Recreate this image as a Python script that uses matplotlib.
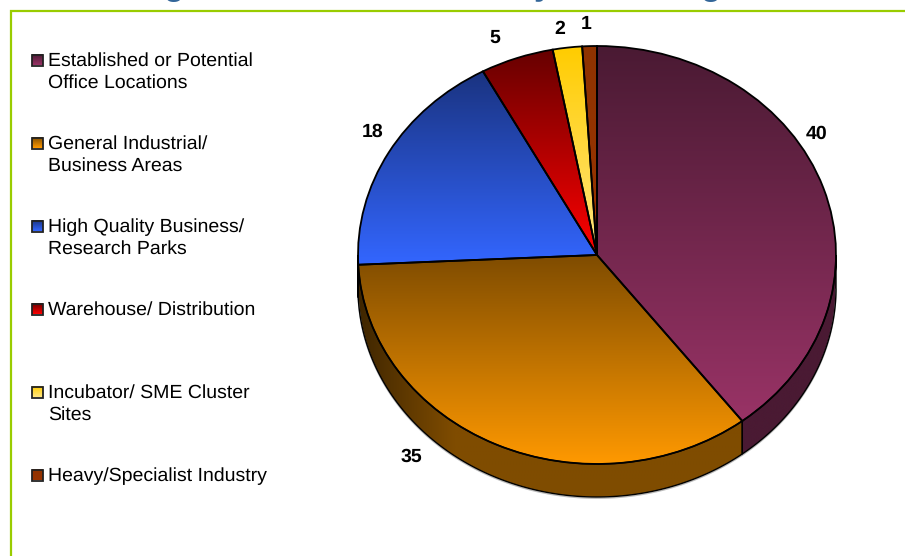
import matplotlib
matplotlib.use('Agg')
import matplotlib.pyplot as plt
from matplotlib.colors import LinearSegmentedColormap
from matplotlib.patches import Polygon, Rectangle
import numpy as np

plt.rcParams['font.family'] = ['Liberation Sans', 'DejaVu Sans']
plt.rcParams['text.hinting'] = 'no_hinting'
plt.rcParams['text.hinting_factor'] = 8

categories = ['Established or Potential\nOffice Locations',
              'General Industrial/\nBusiness Areas',
              'High Quality Business/\nResearch Parks',
              'Warehouse/ Distribution',
              'Incubator/ SME Cluster\nSites',
              'Heavy/Specialist Industry']
values = [40, 35, 18, 5, 2, 1]

# top colour, bottom colour of each slice
top_cols = ['#4a1a33', '#7f4c00', '#1a3380', '#660000', '#ffcc00', '#8f3300']
bot_cols = ['#993366', '#ff9900', '#3366ff', '#ff0000', '#ffe680', '#993300']
side_cols = [['#4a1a33', '#4a1a33'], ['#3f2600', '#7f4c00', '#7f4c00', '#7f4c00', '#7f4c00'],
             ['#3f2600', '#3f2600'], ['#800000', '#800000'], ['#7f6000', '#7f6000'], ['#4d1a00', '#4d1a00']]

# pixel positions of the value labels
label_xy = [(817, 134), (411, 457), (373, 132), (495, 38), (560, 29), (586, 24)]
# only the tails of the title letters show at the top edge
title_bits = [('g', 174), ('y', 543), ('g', 711)]

W, H = 905, 556
depth = 33 / 209
grad = np.linspace(0, 1, 256)

fig = plt.figure(figsize=(W / 100, H / 100), dpi=100)
page = fig.add_axes([0, 0, 1, 1])
page.set_xlim(0, W)
page.set_ylim(H, 0)
page.axis('off')

# green frame runs off the right and bottom
page.plot([W, 10.5, 10.5], [10.5, 10.5, H], color='#99cc00', lw=1.6, solid_joinstyle='miter')

for ch, x in title_bits:
    page.text(x, -4.5, ch, color='#336699', fontsize=24, fontweight='bold', ha='center', va='baseline')

# axes reach below the ellipse so the wall images are not cut
ax = fig.add_axes([358 / W, 1 - 504 / H, 478 / W, 458 / H])
ax.patch.set_alpha(0)
wedges, _ = ax.pie(values, startangle=90, counterclock=False, radius=1, center=(0, 0),
                   wedgeprops={'facecolor': 'none', 'edgecolor': 'black', 'linewidth': 1.3, 'zorder': 4})

for i, w in enumerate(wedges):
    # side wall, only on the front half (-180 to 0 degrees here)
    t1, t2 = max(w.theta1, -180), min(w.theta2, 0)
    if t2 > t1:
        t = np.radians(np.linspace(t1, t2, 120))
        xs, ys = np.cos(t), np.sin(t)
        pts = np.r_[np.c_[xs, ys], np.c_[xs, ys - depth][::-1]]
        wall = Polygon(pts, closed=True, facecolor='none', edgecolor='black', lw=1.0, zorder=3, clip_on=False)
        ax.add_patch(wall)
        cm = LinearSegmentedColormap.from_list('side%d' % i, side_cols[i])
        im = ax.imshow(grad[None, :], cmap=cm, extent=(xs.min(), xs.max(), -1.2, 0.1), aspect='auto', zorder=2)
        im.set_clip_path(wall)
        ax.plot(xs, ys - depth - 0.006, color='#bbbbbb', lw=1.0, zorder=2.5, clip_on=False)
    # gradient on the top face
    box = w.get_path().get_extents(w.get_patch_transform())
    cm = LinearSegmentedColormap.from_list('top%d' % i, [bot_cols[i], top_cols[i]])
    im = ax.imshow(grad[:, None], cmap=cm, origin='lower', aspect='auto', zorder=2.8,
                   extent=(box.x0, box.x1, box.y0, box.y1))
    im.set_clip_path(w)
    w.set_clip_on(False)

ax.set_aspect('auto')
ax.set_xlim(-1, 1)
ax.set_ylim(-1 - 40 / 209, 1)
ax.axis('off')

for (x, y), v in zip(label_xy, values):
    page.text(x, y, str(v), fontsize=14, fontweight='bold', color='black', ha='center', va='center', zorder=10)
page.set_zorder(ax.get_zorder() + 1)
page.patch.set_alpha(0)

# legend built by hand because the entries sit on a fixed step
for i, name in enumerate(categories):
    y0 = 60 + 83 * i
    cm = LinearSegmentedColormap.from_list('leg%d' % i, [top_cols[i], bot_cols[i]])
    page.imshow(grad[:, None], cmap=cm, extent=(31.5, 42.5, y0 + 5.5, y0 - 5.5), aspect='auto', zorder=3)
    page.add_patch(Rectangle((31.5, y0 - 5.5), 11, 11, facecolor='none', edgecolor='#222222', lw=1.3, zorder=4))
    page.text(48, y0 - 8, name, fontsize=14, color='black', va='top', ha='left', linespacing=1.34)

page.set_xlim(0, W)
page.set_ylim(H, 0)
fig.savefig('out.png', dpi=100)
